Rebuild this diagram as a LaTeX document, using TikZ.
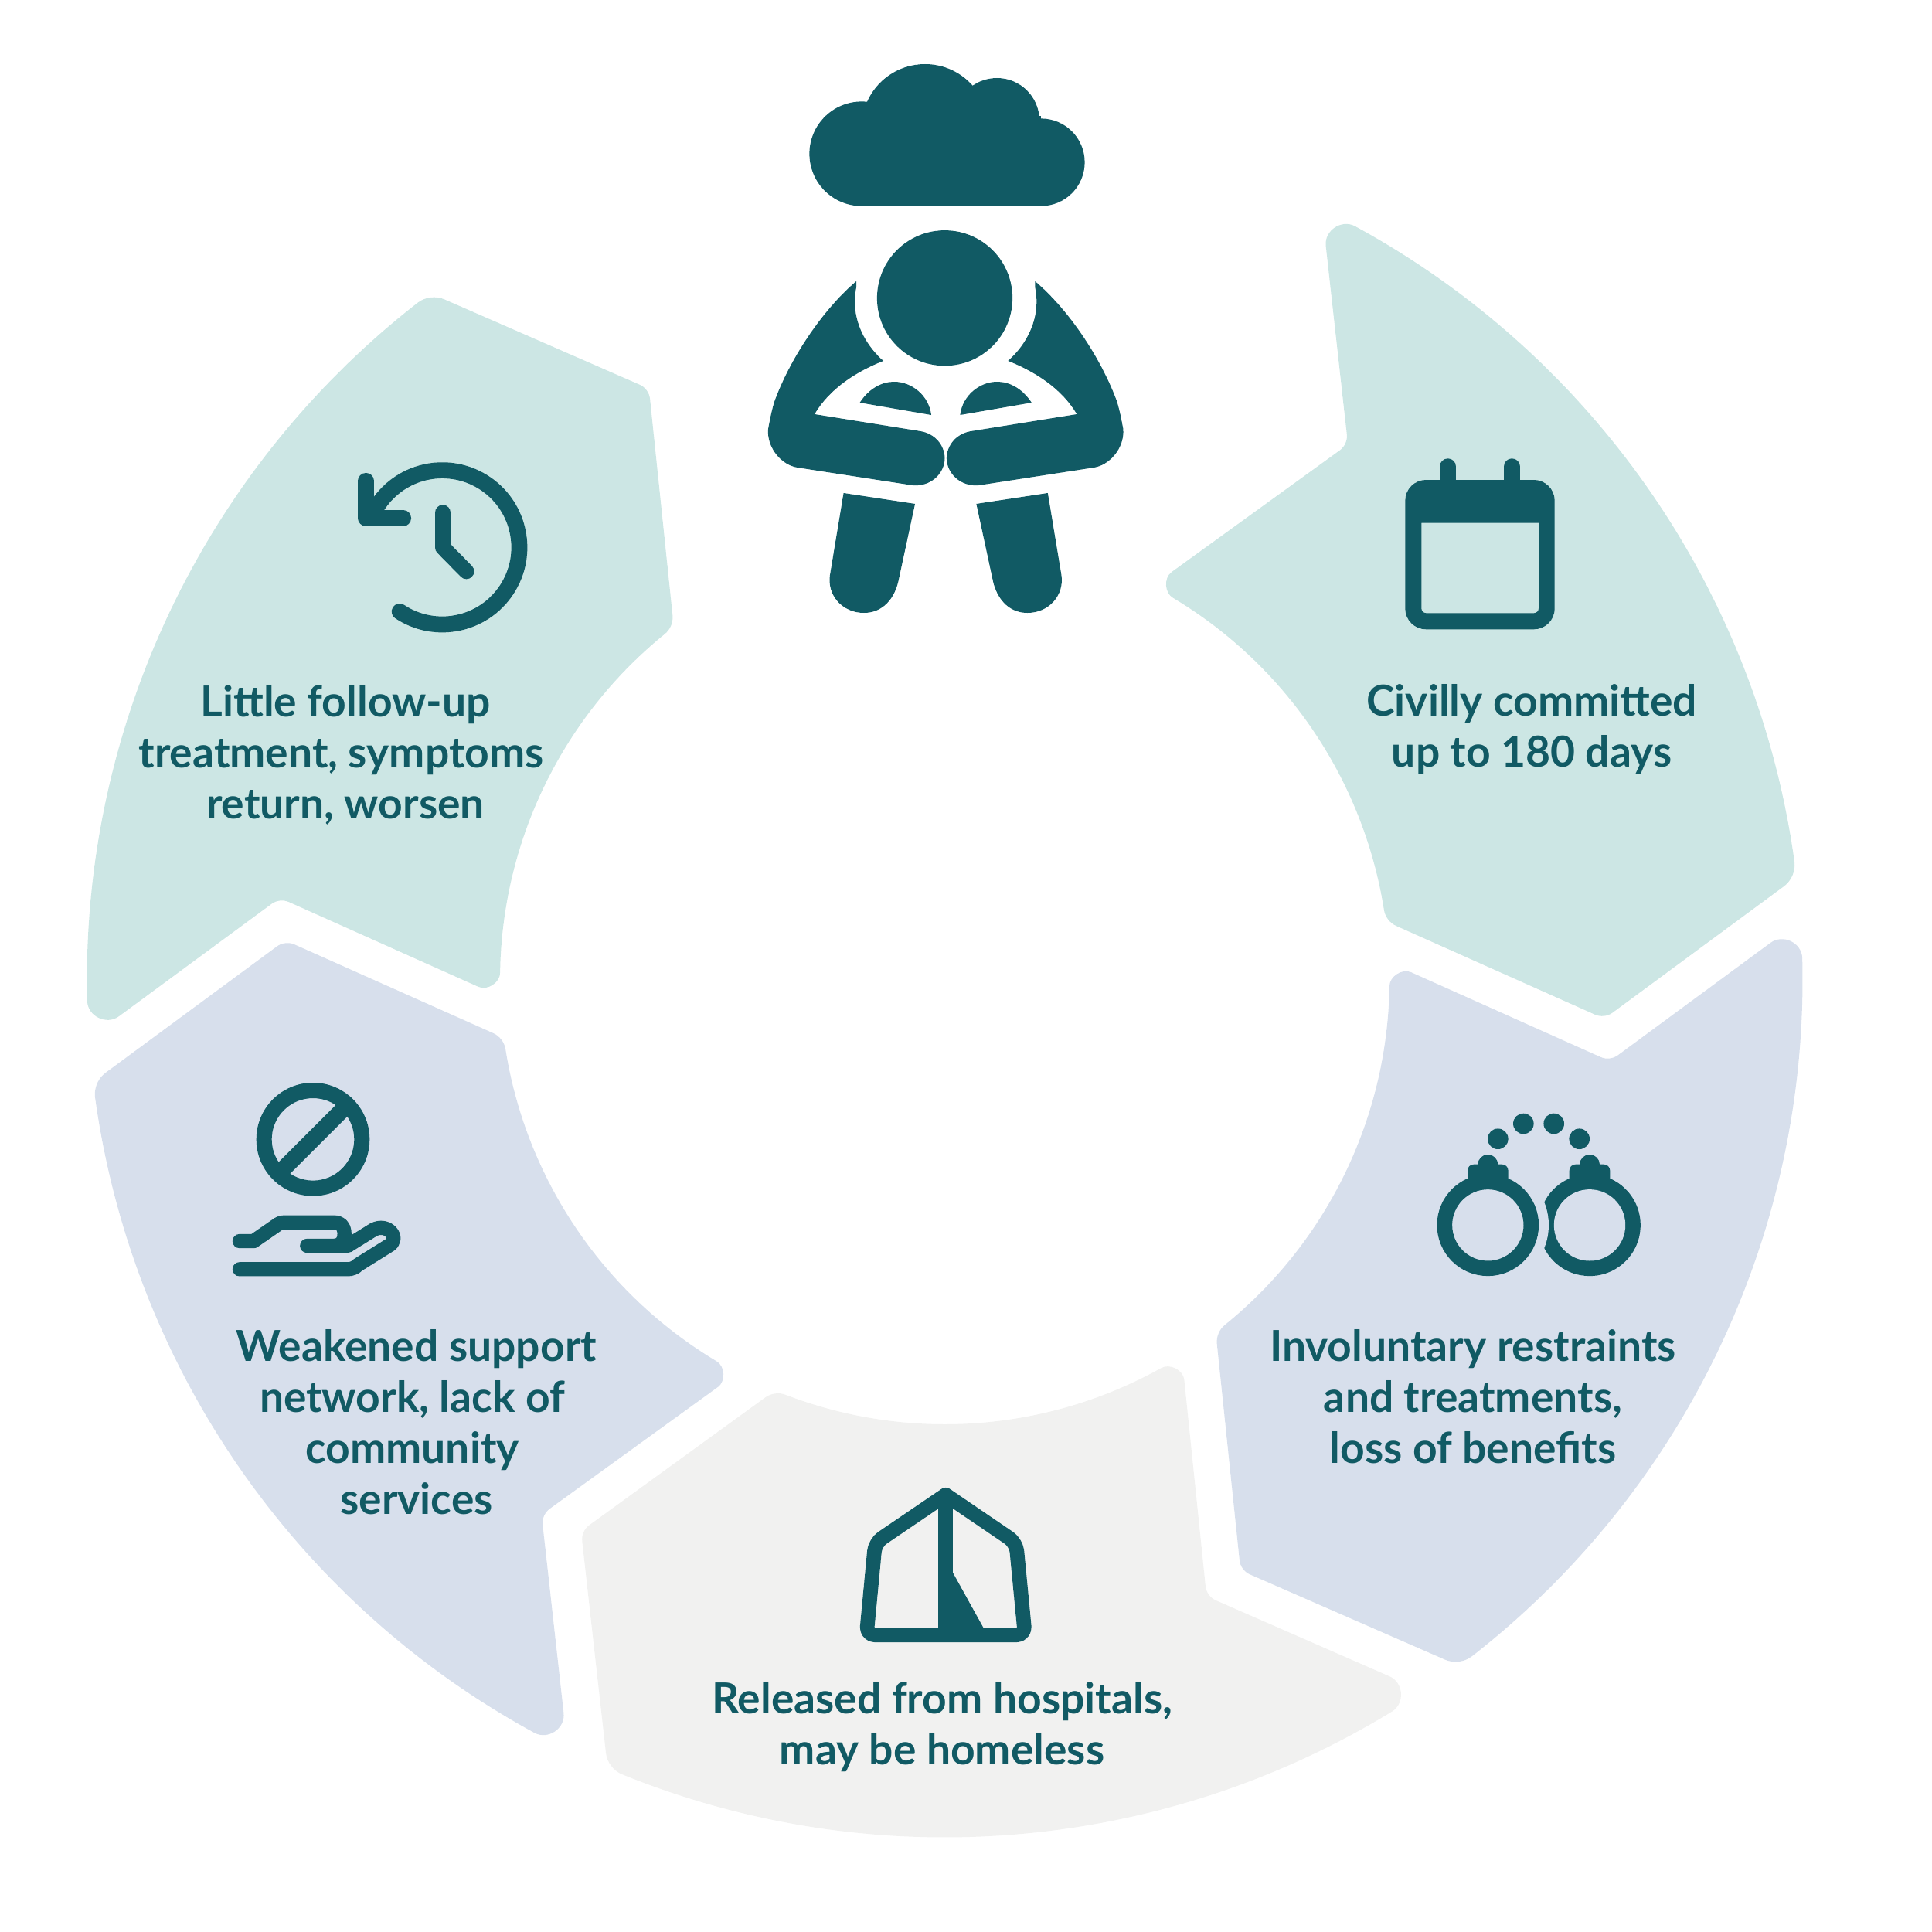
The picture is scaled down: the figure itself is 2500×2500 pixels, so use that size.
\documentclass[tikz,border=0pt]{standalone}
\usepackage{fontspec}
\setmainfont{Lato}
\usetikzlibrary{calc}

\definecolor{tealdark}{HTML}{115A64}
\definecolor{ringgreen}{HTML}{CCE6E4}
\definecolor{ringblue}{HTML}{D7DFEC}
\definecolor{ringgray}{HTML}{F1F1F0}

\tikzset{
  label text/.style={text=tealdark,align=center,inner sep=0pt,font=\fontsize{15.7}{18.8}\selectfont\bfseries},
  icon line/.style={draw=tealdark,line cap=round,line join=round},
}

% rounded corner at #2, coming from #1 and going on to #3
\newcommand{\cornerat}[4]{-- ($(#2)!#4!(#1)$)
  .. controls ($(#2)!0.4*#4!(#1)$) and ($(#2)!0.4*#4!(#3)$) .. ($(#2)!#4!(#3)$)}

% one arrow piece of the ring, turned by #2
\newcommand{\ringpiece}[2]{
  \begin{scope}[shift={(1222.5,1267.5)},y=0.01cm,rotate=#2]
    \coordinate (oa) at (63.93:1110);
    \coordinate (ob) at (6.86:1110);
    \coordinate (tp) at (-3.4:855);
    \coordinate (ib) at (7.54:575.5);
    \coordinate (ia) at (62.2:575.5);
    \coordinate (nt) at (53:867);
    \fill[#1] (61.45:1110) arc[start angle=61.45,end angle=7.89,radius=1110]
      .. controls ($(ob)!.4!(7.89:1110)$) and ($(ob)!0.4*2mm!(tp)$) .. ($(ob)!2mm!(tp)$)
      \cornerat{ob}{tp}{ib}{1.3mm}
      -- ($(ib)!1.5mm!(tp)$)
      .. controls ($(ib)!0.4*1.5mm!(tp)$) and ($(ib)!.4!(9.03:575.5)$) .. (9.03:575.5)
      arc[start angle=9.03,end angle=59.11,radius=575.5]
      .. controls ($(ia)!.59!(59.11:575.5)$) and ($(ia)!0.59*3.1mm!(nt)$) .. ($(ia)!3.1mm!(nt)$)
      \cornerat{ia}{nt}{oa}{1.3mm}
      -- ($(oa)!4.8mm!(nt)$)
      .. controls ($(oa)!0.59*4.8mm!(nt)$) and ($(oa)!.59!(61.45:1110)$) .. cycle;
  \end{scope}
}

\begin{document}
\begin{tikzpicture}[x=0.01cm,y=-0.01cm]
  \useasboundingbox (0,0) rectangle (2500,2500);

  \ringpiece{ringgreen}{0}
  \ringpiece{ringblue}{-60}
  \ringpiece{ringgray}{-120}
  \ringpiece{ringblue}{-180}
  \ringpiece{ringgreen}{-240}

  % person under the cloud
  \fill[tealdark] (1115,199) circle[radius=67.6] (1347,210) circle[radius=56.6]
    (1197,165) circle[radius=82] (1290,156) circle[radius=55];
  \fill[tealdark] (1115,150) rectangle (1347,266.8);
  \fill[tealdark] (1222.5,385.7) circle[radius=87.6];
  \foreach \side/\flip in {0/1,2447.4/-1}{
    \begin{scope}[shift={(\side,0)},xscale=\flip]
      \fill[tealdark] (1108,364) .. controls (1060,405) and (1020,470) .. (1002,520)
        .. controls (998,533) and (996,545) .. (994,555)
        .. controls (992,580) and (1012,602) .. (1032,605) -- (1181,628)
        .. controls (1203,630) and (1222,614) .. (1222.5,593)
        .. controls (1222,575) and (1209,561) .. (1191,558) -- (1054,536)
        .. controls (1072,505) and (1105,482) .. (1143,467)
        .. controls (1118,445) and (1100,410) .. (1108,372) -- cycle;
      \fill[tealdark] (1112.6,521) .. controls (1125,502) and (1142,494) .. (1157,494)
        .. controls (1180,494) and (1202,512) .. (1205,537) -- cycle;
      \fill[tealdark] (1091.6,638) -- (1184,652) -- (1162,754)
        .. controls (1155,780) and (1138,793) .. (1118,793)
        .. controls (1090,793) and (1070,770) .. (1074,744) -- cycle;
    \end{scope}
  }

  % calendar
  \fill[tealdark,even odd rule,rounded corners=2.7mm] (1818.3,621) rectangle (2011.7,814.3)
    [sharp corners] (1839.3,676.7) [rounded corners=0.6mm] -- (1839.3,793.3) -- (1991,793.3)
    [sharp corners] -- (1991,676.7) -- cycle;
  \draw[icon line,line width=2.1mm] (1873.7,603.8) -- (1873.7,625) (1956.3,603.8) -- (1956.3,625);

  % handcuffs
  \fill[tealdark] (2057,1585.3) circle[radius=65.8];
  \fill[ringblue] (2057,1585.3) circle[radius=46.2] (1925.3,1585.3) circle[radius=78.7];
  \draw[tealdark,line width=1.96mm] (1925.3,1585.3) circle[radius=56];
  \foreach \lock in {1925.3,2057}{
    \fill[tealdark,rounded corners=0.8mm] (\lock-26.3,1535) -- (\lock-26.3,1506.7) -- (\lock+26.3,1506.7) -- (\lock+26.3,1535) -- cycle;
    \fill[tealdark] (\lock,1507) circle[radius=13];
  }
  \foreach \dotx/\doty in {1938.3/1473.7,1971.3/1454,2010.7/1454,2043.7/1473.7}
    \fill[tealdark] (\dotx,\doty) circle[radius=13.3];

  % pill over the hand
  \draw[tealdark,line width=2mm] (405,1474.3) circle[radius=63.3];
  \draw[tealdark,line width=2.1mm] (360,1519.3) -- (450,1429.3);
  \draw[icon line,line width=1.83mm] (310,1606) -- (328.3,1606) -- (360,1584)
    .. controls (363,1582) and (365,1581.7) .. (368.3,1581.7) -- (431.7,1581.7)
    .. controls (441.7,1581.7) and (445.7,1588.3) .. (445.7,1596.7)
    .. controls (445.7,1606.7) and (440,1612) .. (433.3,1612);
  \draw[icon line,line width=1.83mm] (397.3,1612) -- (450,1612) -- (480,1593.3)
    .. controls (488.3,1587.3) and (498.3,1587.3) .. (505,1593.3)
    .. controls (511.7,1600) and (510,1608.3) .. (503.3,1611.7) -- (463.3,1636.7)
    .. controls (460,1640.3) and (455,1642.3) .. (450,1642.3) -- (310,1642.3);

  % tent
  \draw[icon line,line width=1.87mm] (1223.7,1934.3) [rounded corners=1.1mm] -- (1132.5,1996.3)
    -- (1121.2,2115.7) -- (1326.3,2115.7) -- (1314.8,1996.3) [sharp corners] -- cycle;
  \draw[tealdark,line width=1.87mm] (1223.7,1934.3) -- (1223.7,2115.7);
  \fill[tealdark] (1233,2035) -- (1272.7,2106.7) -- (1272.7,2115.7) -- (1220,2115.7) -- (1220,2035) -- cycle;

  % clock running back
  \draw[icon line,line width=2.07mm] (572.3,708.3) ++(123.6:99.7)
    arc[start angle=123.6,end angle=-155,radius=99.7];
  \draw[icon line,line width=2.07mm] (473.7,622.3) -- (473.7,670.3) -- (521.7,670.3);
  \draw[icon line,line width=2mm] (573,663.3) -- (573,708.3) -- (603.5,739.3);

  \node[label text] (committed) at (1982,944) {Civilly committed\\up to 180 days};
  \node[label text] (restraints) at (1906,1807) {Involuntary restraints\\and treatments,\\loss of benefits};
  \node[label text] (released) at (1219,2235) {Released from hospitals,\\may be homeless};
  \node[label text] (weakened) at (539,1840) {Weakened support\\network, lack of\kern1.1mm\\community\kern1.1mm\\services};
  \node[label text] (followup) at (447,977) {Little follow-up\\treatment, symptoms\kern1.1mm\\return, worsen};
\end{tikzpicture}
\end{document}
